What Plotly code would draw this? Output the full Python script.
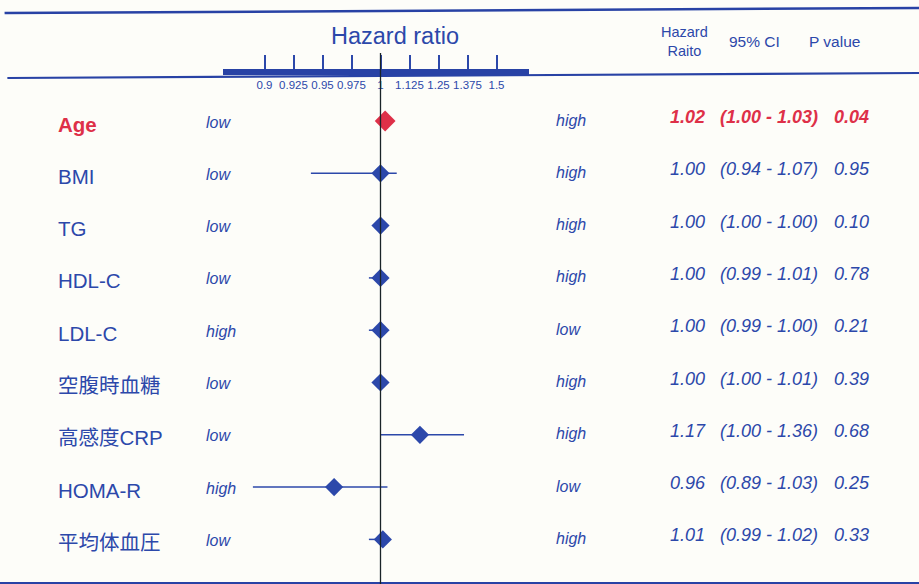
import numpy as np
import plotly.graph_objects as go

# ---- data -------------------------------------------------------------
labels = ["Age", "BMI", "TG", "HDL-C", "LDL-C", "空腹時血糖", "高感度CRP", "HOMA-R", "平均体血圧"]
left_dir = ["low", "low", "low", "low", "high", "low", "low", "high", "low"]
right_dir = ["high", "high", "high", "high", "low", "high", "high", "low", "high"]
hr = [1.02, 1.00, 1.00, 1.00, 1.00, 1.00, 1.17, 0.96, 1.01]
ci_lo = [1.00, 0.94, 1.00, 0.99, 0.99, 1.00, 1.00, 0.89, 0.99]
ci_hi = [1.03, 1.07, 1.00, 1.01, 1.00, 1.01, 1.36, 1.03, 1.02]
p_val = [0.04, 0.95, 0.10, 0.78, 0.21, 0.39, 0.68, 0.25, 0.33]
tick_vals = [0.9, 0.925, 0.95, 0.975, 1.0, 1.125, 1.25, 1.375, 1.5]
tick_text = ["0.9", "0.925", "0.95", "0.975", "1", "1.125", "1.25", "1.375", "1.5"]

# ---- styling ----------------------------------------------------------
BLUE = "rgb(44,72,170)"
LINE_BLUE = "rgb(40,66,165)"
RED = "rgb(222,48,72)"
FONT = "Liberation Sans, Arial, Noto Sans CJK JP, sans-serif"
W, H = 919, 584


def scale(v):
    """Split hazard-ratio scale: 0.025 per step below 1, 0.125 per step above."""
    v = np.asarray(v, dtype=float)
    return np.where(v < 1, (v - 1) / 0.025, (v - 1) / 0.125)


rows = np.arange(len(labels))
sig = [p < 0.05 for p in p_val]
colors = [RED if s else BLUE for s in sig]

fig = go.Figure()

# confidence-interval whiskers
xs, ys = [], []
for i in rows:
    xs += [float(scale(ci_lo[i])), float(scale(ci_hi[i])), None]
    ys += [i, i, None]
fig.add_trace(go.Scatter(x=xs, y=ys, mode="lines",
                         line=dict(color=BLUE, width=1.5),
                         hoverinfo="skip", showlegend=False))

# point estimates
fig.add_trace(go.Scatter(x=scale(hr), y=rows, mode="markers",
                         marker=dict(symbol="diamond", size=[16 if s else 14 for s in sig],
                                     color=colors, opacity=1, line=dict(width=0)),
                         showlegend=False))

ann = []


def txt(x_px, y, text, size, color=BLUE, anchor="left", yshift=0, yref="y"):
    ann.append(dict(x=x_px / W, xref="paper", y=y, yref=yref, text=text,
                    showarrow=False, xanchor=anchor, yanchor="middle", yshift=yshift,
                    font=dict(family=FONT, size=size, color=color)))


for i in rows:
    c = colors[i]
    name = f"<b>{labels[i]}</b>" if sig[i] else labels[i]
    txt(56, i, name, 20.5, c, yshift=-3)
    txt(204, i, f"<i>{left_dir[i]}</i>", 16, BLUE, yshift=-1)
    txt(554, i, f"<i>{right_dir[i]}</i>", 16, BLUE, yshift=1)
    b0, b1 = ("<b>", "</b>") if sig[i] else ("", "")
    txt(668, i, f"{b0}<i>{hr[i]:.2f}</i>{b1}", 18, c, yshift=4)
    txt(769, i, f"{b0}<i>({ci_lo[i]:.2f} - {ci_hi[i]:.2f})</i>{b1}", 18, c,
        anchor="center", yshift=4)
    txt(832, i, f"{b0}<i>{p_val[i]:.2f}</i>{b1}", 18, c, yshift=4)

# header
txt(395, 1 - 36 / H, "Hazard ratio", 23.5, yref="paper", anchor="center")
txt(684, 1 - 41 / H, "Hazard<br>Raito", 14.5, yref="paper", anchor="center")
txt(754, 1 - 42 / H, "95% CI", 15.5, yref="paper", anchor="center")
txt(834, 1 - 42 / H, "P value", 15.5, yref="paper", anchor="center")

shapes = [
    # frame rules
    dict(type="line", xref="paper", yref="paper", x0=0.005, x1=1, y0=1 - 13 / H, y1=1 - 8 / H,
         line=dict(color=LINE_BLUE, width=2.5)),
    dict(type="line", xref="paper", yref="paper", x0=0.008, x1=1, y0=1 - 78 / H, y1=1 - 73 / H,
         line=dict(color=LINE_BLUE, width=2.2)),
    dict(type="line", xref="paper", yref="paper", x0=0, x1=1, y0=1 - 583 / H, y1=1 - 583 / H,
         line=dict(color=LINE_BLUE, width=2)),
    # thick scale bar
    dict(type="line", xref="paper", yref="paper", x0=223 / W, x1=529 / W,
         y0=1 - 72 / H, y1=1 - 72 / H, line=dict(color=LINE_BLUE, width=6)),
    # reference line at HR = 1
    dict(type="line", xref="x", yref="paper", x0=float(scale(1.0)), x1=float(scale(1.0)),
         y0=0, y1=1 - 53 / H, line=dict(color="rgb(25,35,40)", width=1.3), layer="above"),
]

fig.update_layout(
    width=W, height=H,
    margin=dict(l=0, r=0, t=0, b=0),
    paper_bgcolor="#fdfdf9", plot_bgcolor="#fdfdf9",
    annotations=ann, shapes=shapes,
    xaxis=dict(range=[-380.5 / 29, (W - 380.5) / 29], anchor="free", position=1 - 71 / H,
               tickvals=scale(tick_vals), ticktext=tick_text,
               ticks="inside", ticklen=16, tickwidth=1.5, tickcolor=BLUE,
               ticklabelstandoff=5,
               tickfont=dict(family=FONT, size=11.5, color=BLUE),
               showgrid=False, zeroline=False, showline=False, fixedrange=True),
    yaxis=dict(range=[(H - 121) / 52.3, -121 / 52.3], visible=False,
               showgrid=False, zeroline=False, fixedrange=True),
    showlegend=False,
)

fig.write_html("out.html")
